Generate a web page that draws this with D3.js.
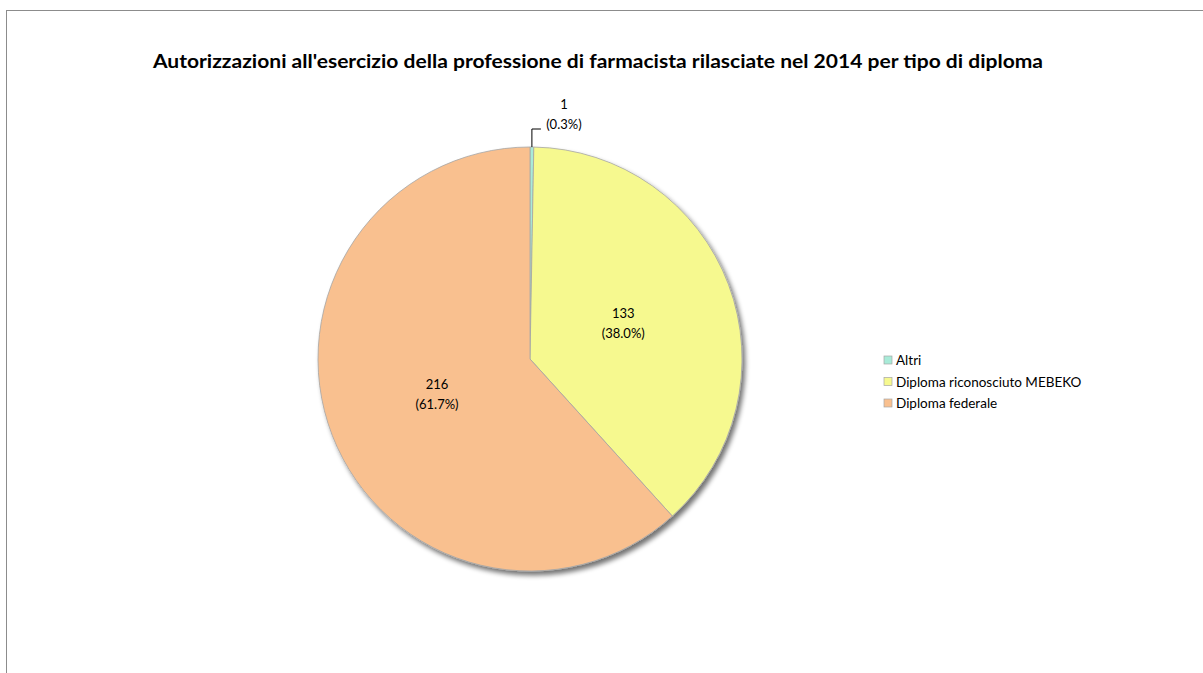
<html lang="it">
<head>
<meta charset="utf-8">
<title>Autorizzazioni farmacista 2014</title>
<script src="https://d3js.org/d3.v7.min.js"></script>
<style>
  body { margin: 0; background: #fff; }
  text { font-family: Lato, "Open Sans", sans-serif; fill: #000; }
</style>
</head>
<body>
<div class="chart"></div>
<script>
// data
const categories = ["Altri", "Diploma riconosciuto MEBEKO", "Diploma federale"];
const values = [1, 133, 216];
const colors = ["#a8ebd8", "#f6f98f", "#f9c08f"];
const title = "Autorizzazioni all'esercizio della professione di farmacista rilasciate nel 2014 per tipo di diploma";

const width = 1203, height = 673;
const cx = 530, cy = 359, radius = 212;

const svg = d3.select(".chart").append("svg")
    .attr("width", width)
    .attr("height", height);

/* shadow under the pie */
const defs = svg.append("defs");
const f = defs.append("filter").attr("id", "shadow")
    .attr("x", "-10%").attr("y", "-10%").attr("width", "125%").attr("height", "125%");
f.append("feGaussianBlur").attr("in", "SourceAlpha").attr("stdDeviation", 2.5).attr("result", "b");
f.append("feOffset").attr("in", "b").attr("dx", 3).attr("dy", 4).attr("result", "o");
f.append("feComponentTransfer").attr("in", "o").attr("result", "s")
    .append("feFuncA").attr("type", "linear").attr("slope", 0.55);
const m = f.append("feMerge");
m.append("feMergeNode").attr("in", "s");
m.append("feMergeNode").attr("in", "SourceGraphic");

/* chart area border */
svg.append("rect")
    .attr("x", 6.5).attr("y", 10.5)
    .attr("width", 1300).attr("height", 800)
    .attr("fill", "none")
    .attr("stroke", "#8c8c8c")
    .attr("stroke-width", 1);

/* title */
svg.append("text")
    .attr("x", 598).attr("y", 68)
    .attr("text-anchor", "middle")
    .attr("font-size", 18)
    .attr("font-weight", "bold")
    .attr("textLength", 890)
    .attr("lengthAdjust", "spacingAndGlyphs")
    .text(title);

const total = d3.sum(values);
const data = categories.map((c, i) => ({name: c, value: values[i], color: colors[i]}));

const pie = d3.pie().sort(null).value(d => d.value);
const arcs = pie(data);
const arc = d3.arc().innerRadius(0).outerRadius(radius);
const labelArc = d3.arc().innerRadius(radius * 0.47).outerRadius(radius * 0.47);

const g = svg.append("g").attr("transform", `translate(${cx},${cy})`);

g.append("g").attr("filter", "url(#shadow)")
  .selectAll("path")
  .data(arcs)
  .enter()
  .append("path")
    .attr("d", arc)
    .attr("fill", d => d.data.color)
    .attr("stroke", "#a6a6a6")
    .attr("stroke-width", 0.8);

const fmt = d => d.data.value;
const pct = d => "(" + (d.data.value / total * 100).toFixed(1) + "%)";

/* labels inside the big slices */
arcs.forEach(d => {
    if (d.data.value / total < 0.05) {
        /* small slice: label outside with a leader line */
        const a = (d.startAngle + d.endAngle) / 2;
        const x0 = Math.sin(a) * radius, y0 = -Math.cos(a) * radius;
        const y1 = y0 - 18;
        g.append("path")
            .attr("d", `M${x0},${y0}L${x0},${y1}L${x0 + 9},${y1}`)
            .attr("fill", "none")
            .attr("stroke", "#000")
            .attr("stroke-width", 1);
        const t = g.append("text")
            .attr("text-anchor", "middle")
            .attr("font-size", 13);
        t.append("tspan").attr("x", x0 + 32).attr("y", y1 - 20).text(fmt(d));
        t.append("tspan").attr("x", x0 + 32).attr("y", y1).text(pct(d));
    } else {
        const c = labelArc.centroid(d);
        const t = g.append("text")
            .attr("text-anchor", "middle")
            .attr("font-size", 13);
        t.append("tspan").attr("x", c[0]).attr("y", c[1] - 6).text(fmt(d));
        t.append("tspan").attr("x", c[0]).attr("y", c[1] + 14).text(pct(d));
    }
});

/* legend */
const legend = svg.append("g").attr("transform", "translate(884,356)");
const rows = legend.selectAll("g")
    .data(data)
    .enter()
    .append("g")
    .attr("transform", (d, i) => `translate(0,${i * 21.5})`);
rows.append("rect")
    .attr("width", 8).attr("height", 8)
    .attr("fill", d => d.color)
    .attr("stroke", "#a6a6a6")
    .attr("stroke-width", 0.7);
rows.append("text")
    .attr("x", 12).attr("y", 9)
    .attr("font-size", 13.5)
    .text(d => d.name);
</script>
</body>
</html>
